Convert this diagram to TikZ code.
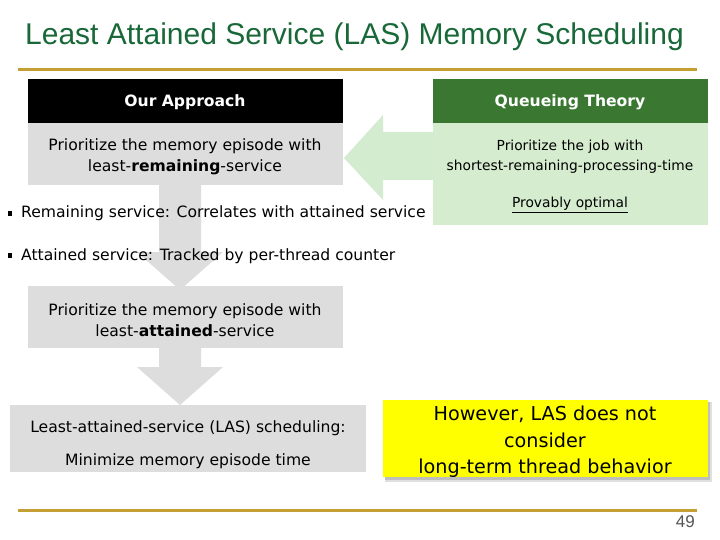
\documentclass[tikz,border=0pt]{standalone}
\usepackage{fontspec}
\setmainfont{DejaVu Sans}
\newfontfamily\titlefont{Liberation Sans}
\definecolor{titlegreen}{RGB}{24,104,56}
\definecolor{goldline}{RGB}{196,160,52}
\definecolor{boxgray}{RGB}{221,221,221}
\definecolor{darkgreen}{RGB}{58,120,50}
\definecolor{lightgreen}{RGB}{213,236,207}
\definecolor{arrowgreen}{RGB}{211,236,208}
\definecolor{hiyellow}{RGB}{255,255,0}
\definecolor{pagegray}{RGB}{85,85,85}
\begin{document}
\begin{tikzpicture}[x=1pt,y=-1pt,
  txt/.style={inner sep=0pt, align=center, font=\fontsize{15.6}{21.5}\selectfont},
  smalltxt/.style={inner sep=0pt, align=center, font=\fontsize{13.8}{20}\selectfont},
  headtxt/.style={inner sep=0pt, text=white, font=\bfseries\fontsize{15.6}{18}\selectfont},
  bullettxt/.style={inner sep=0pt, anchor=west, font=\fontsize{15.6}{18}\selectfont},
  rule/.style={goldline, line width=3pt}]
\useasboundingbox (0,0) rectangle (720,540);
\fill[white] (0,0) rectangle (720,540);

% title and rules
\node[anchor=base west, inner sep=0pt, text=titlegreen, font=\titlefont\fontsize{30}{36}\selectfont] (title) at (25,45) {Least Attained Service (LAS) Memory Scheduling};
\draw[rule] (18,70) -- (697,70);
\draw[rule] (18,510) -- (697,510);
\node[anchor=base east, inner sep=0pt, text=pagegray, font=\titlefont\fontsize{17}{20}\selectfont] (pagenum) at (695,527) {49};

% arrows (behind boxes)
\fill[arrowgreen] (433,132) -- (383,132) -- (383,115) -- (344,158) -- (383,200) -- (383,180) -- (433,180) -- cycle;
\fill[boxgray] (159,184) -- (201,184) -- (201,252) -- (223,252) -- (180,290) -- (137,252) -- (159,252) -- cycle;
\fill[boxgray] (159,347) -- (201,347) -- (201,367) -- (223,367) -- (180,405) -- (137,367) -- (159,367) -- cycle;

% left column
\fill[black] (28,79) rectangle (343,123);
\node[headtxt] (ourhead) at (185,102) {Our Approach};
\fill[boxgray] (28,123) rectangle (343,185);
\node[txt] (ourbody) at (185,157) {Prioritize the memory episode with\\least-\textbf{remaining}-service};

% right column
\fill[darkgreen] (433,79) rectangle (708,123);
\node[headtxt] (qthead) at (570,102) {Queueing Theory};
\fill[lightgreen] (433,123) rectangle (708,225);
\node[smalltxt] (qtbody) at (570,157) {Prioritize the job with\\shortest-remaining-processing-time};
\node[smalltxt] (qtopt) at (570,205) {\underline{Provably optimal}};

% bullets
\fill[black] (8,211) rectangle (12,216);
\node[bullettxt] (bul1) at (21,213) {Remaining service: Correlates with attained service};
\fill[black] (8,253) rectangle (12,258);
\node[bullettxt] (bul2) at (21,256) {Attained service: Tracked by per-thread counter};

% second box
\fill[boxgray] (28,286) rectangle (343,348);
\node[txt] (lasbody) at (185,320) {Prioritize the memory episode with\\least-\textbf{attained}-service};

% third box
\fill[boxgray] (10,405) rectangle (366,472);
\node[txt] (las1) at (188,428) {Least-attained-service (LAS) scheduling:};
\node[txt] (las2) at (188,461) {Minimize memory episode time};

% yellow note
\fill[black, opacity=0.12] (385,402) rectangle (712,482);
\fill[black, opacity=0.15] (385,402) rectangle (710,480);
\fill[hiyellow] (383,400) rectangle (708,477);
\node[inner sep=0pt, align=center, font=\fontsize{19.2}{26.5}\selectfont] (note) at (545,442) {However, LAS does not\\consider\\long-term thread behavior};
\end{tikzpicture}
\end{document}
